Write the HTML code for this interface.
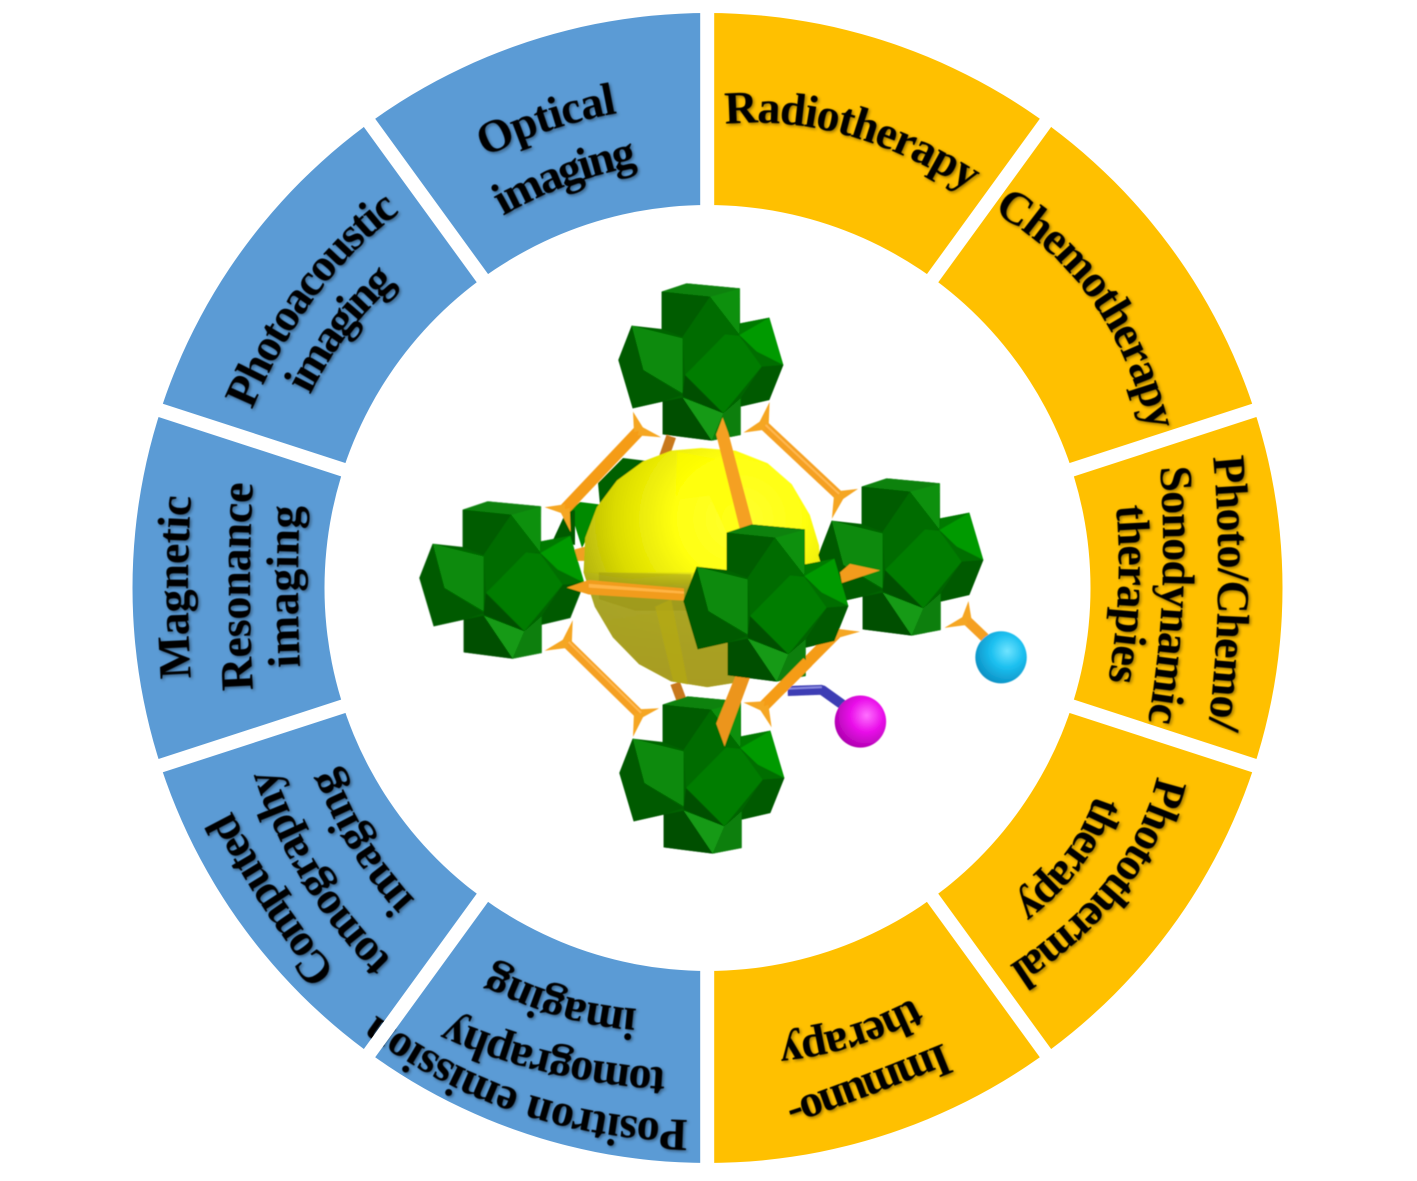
<!DOCTYPE html>
<html>
<head>
<meta charset="utf-8">
<style>
html,body{margin:0;padding:0;background:#fff}
svg{display:block}
.t{font-family:"Liberation Serif",serif;font-weight:bold;font-size:46px;fill:#000}
</style>
</head>
<body>
<svg width="1417" height="1181" viewBox="0 0 1417 1181" xmlns="http://www.w3.org/2000/svg">
<defs>
<filter id="sh" x="-5%" y="-5%" width="110%" height="110%">
<feGaussianBlur in="SourceAlpha" stdDeviation="1.5" result="b"/>
<feOffset in="b" dx="1.5" dy="1.5" result="o"/>
<feFlood flood-color="#000" flood-opacity=".42"/>
<feComposite in2="o" operator="in" result="s"/>
<feGaussianBlur in="SourceGraphic" stdDeviation=".6" result="g"/>
<feMerge><feMergeNode in="s"/><feMergeNode in="g"/></feMerge>
</filter>
<filter id="soft"><feGaussianBlur stdDeviation=".5"/></filter>
<radialGradient id="sp1" gradientUnits="userSpaceOnUse" cx="820" cy="650" r="430">
<stop offset="0" stop-color="#ffff30"/><stop offset=".38" stop-color="#ffff10"/><stop offset=".72" stop-color="#dcdc00"/><stop offset="1" stop-color="#adad10"/>
</radialGradient>
<linearGradient id="sp2" gradientUnits="userSpaceOnUse" x1="0" y1="790" x2="0" y2="1090">
<stop offset="0" stop-color="#a8a428" stop-opacity=".2"/><stop offset=".16" stop-color="#a8a428" stop-opacity=".95"/><stop offset="1" stop-color="#a89c20"/>
</linearGradient>
<radialGradient id="cy" cx=".62" cy=".38" r=".7">
<stop offset="0" stop-color="#70e4ff"/><stop offset=".45" stop-color="#1cc0f0"/><stop offset="1" stop-color="#0a8cc0"/>
</radialGradient>
<radialGradient id="mg" cx=".62" cy=".38" r=".7">
<stop offset="0" stop-color="#ff70ff"/><stop offset=".45" stop-color="#ea10ea"/><stop offset="1" stop-color="#a800a8"/>
</radialGradient>
<g id="c" transform="matrix(.33333,0,0,.33333,610,275)">
<polygon fill="#006400" points="155,50 230,25 390,40 390,145 478,128 520,270 478,375 392,395 392,480 305,497 158,478 158,380 68,400 25,255 65,152 155,162"/>
<polygon fill="#0a820a" points="155,50 230,25 390,40 300,65"/>
<polygon fill="#0a900a" points="300,65 390,40 388,178"/>
<polygon fill="#005c00" points="155,50 300,65 218,185 155,162"/>
<polygon fill="#006c00" points="300,65 388,180 345,178 225,300 218,185"/>
<polygon fill="#088a08" points="65,152 218,190 218,355 100,285"/>
<polygon fill="#005a00" points="65,152 25,255 68,400 158,380 218,360 100,285"/>
<polygon fill="#007a00" points="390,145 478,128 388,180"/>
<polygon fill="#009a00" points="388,180 478,128 520,270 440,230"/>
<polygon fill="#056e05" points="388,185 440,230 520,270 455,275"/>
<polygon fill="#005a00" points="455,275 520,270 478,375 392,395 395,365"/>
<polygon fill="#007d00" points="345,178 388,182 455,275 340,415 225,300"/>
<polygon fill="#004f00" points="225,300 340,415 218,365 218,355"/>
<polygon fill="#149a14" points="218,368 340,415 305,497"/>
<polygon fill="#005000" points="158,380 218,368 305,497 158,478"/>
<polygon fill="#0d7f0d" points="340,415 392,370 392,480 305,497"/>
</g>
</defs>

<!-- ring -->
<path fill="#FFC000" d="M707.5,13 A575,575 0 0 1 707.5,1163 L707.5,971 A383,383 0 0 0 707.5,205 Z"/>
<path fill="#5B9BD5" d="M707.5,13 A575,575 0 0 0 707.5,1163 L707.5,971 A383,383 0 0 1 707.5,205 Z"/>

<path id="p1" fill="none" d="M485,157 Q549,125.5 618,113"/>
<path id="p2" fill="none" d="M503,216 Q567.5,179 640,165.5"/>
<path id="p3" fill="none" d="M252,410 Q305.5,283 398,214"/>
<path id="p4" fill="none" d="M310,395 Q342,331 392,287"/>
<path id="p5" fill="none" d="M191,678 Q185,592.5 191,497"/>
<path id="p6" fill="none" d="M253,690 Q247,586.5 253,483"/>
<path id="p7" fill="none" d="M300,667 Q296,586.5 300,506"/>
<path id="p8" fill="none" d="M336,972 Q270,888 232,812"/>
<path id="p9" fill="none" d="M392,960 Q312,882 275,772"/>
<path id="p10" fill="none" d="M415,900 Q363,844 335,768"/>
<path id="p11" fill="none" d="M688,1120 Q513.5,1117.5 373,1013"/>
<path id="p12" fill="none" d="M666,1068 Q548.5,1061.5 449,1017"/>
<path id="p13" fill="none" d="M637,1009 Q559.5,1002.5 492,966"/>
<path id="p14" fill="none" d="M944,1043 Q851.5,1081 785,1103"/>
<path id="p15" fill="none" d="M914,998 Q850,1033 777,1040"/>
<path id="p16" fill="none" d="M1157,776 Q1133,885 1009,966"/>
<path id="p17" fill="none" d="M1095,795 Q1075.5,856.5 1014,904"/>
<path id="p18" fill="none" d="M1213,457 Q1225.5,586.5 1208,730"/>
<path id="p19" fill="none" d="M1160,467 Q1170,595.5 1148,722"/>
<path id="p20" fill="none" d="M1116,506 Q1124,592 1108,682"/>
<path id="p21" fill="none" d="M993,212 Q1109.5,277 1148,428"/>
<path id="p22" fill="none" d="M725,124 Q845,113 967,190"/>

<g filter="url(#sh)" class="t">
<text class="t"><textPath href="#p1" textLength="140">Optical</textPath></text>
<text class="t"><textPath href="#p2" textLength="144">imaging</textPath></text>
<text class="t"><textPath href="#p3" textLength="250">Photoacoustic</textPath></text>
<text class="t"><textPath href="#p4" textLength="142">imaging</textPath></text>
<text class="t"><textPath href="#p5" textLength="182">Magnetic</textPath></text>
<text class="t"><textPath href="#p6" textLength="207">Resonance</textPath></text>
<text class="t"><textPath href="#p7" textLength="161">imaging</textPath></text>
<text class="t"><textPath href="#p8" textLength="192">Computed</textPath></text>
<text class="t"><textPath href="#p9" textLength="228">tomography</textPath></text>
<text class="t"><textPath href="#p10" textLength="156">imaging</textPath></text>
<text class="t"><textPath href="#p11" textLength="335">Positron emission</textPath></text>
<text class="t"><textPath href="#p12" textLength="225">tomography</textPath></text>
<text class="t"><textPath href="#p13" textLength="152">imaging</textPath></text>
<text class="t"><textPath href="#p14" textLength="170">Immuno-</textPath></text>
<text class="t"><textPath href="#p15" textLength="143">therapy</textPath></text>
<text class="t"><textPath href="#p16" textLength="247">Photothermal</textPath></text>
<text class="t"><textPath href="#p17" textLength="138">therapy</textPath></text>
<text class="t"><textPath href="#p18" textLength="273">Photo/Chemo/</textPath></text>
<text class="t"><textPath href="#p19" textLength="256">Sonodynamic</textPath></text>
<text class="t"><textPath href="#p20" textLength="176">therapies</textPath></text>
<text class="t"><textPath href="#p21" textLength="277">Chemotherapy</textPath></text>
<text class="t"><textPath href="#p22" textLength="258">Radiotherapy</textPath></text>
</g>

<!-- separators -->
<g stroke="#fff" stroke-width="14" fill="none">
<line x1="707.2" y1="0" x2="707.2" y2="240"/>
<line x1="707.2" y1="940" x2="707.2" y2="1181"/>
<line x1="919.1" y1="296.8" x2="1060.2" y2="102.6"/>
<line x1="495.9" y1="879.2" x2="354.8" y2="1073.4"/>
<line x1="1049.9" y1="476.8" x2="1278.2" y2="402.6"/>
<line x1="365.1" y1="699.2" x2="136.8" y2="773.4"/>
<line x1="1049.9" y1="699.2" x2="1278.2" y2="773.4"/>
<line x1="365.1" y1="476.8" x2="136.8" y2="402.6"/>
<line x1="919.1" y1="879.2" x2="1060.2" y2="1073.4"/>
<line x1="495.9" y1="296.8" x2="354.8" y2="102.6"/>
</g>

<!-- molecule -->
<g filter="url(#soft)">
<!-- back cluster fragments -->
<polygon fill="#006000" points="598,483 623,458 655,462 600,505"/>
<polygon fill="#008a00" points="570,510 580,502 604,505 582,548"/>
<polygon fill="#005a00" points="553,540 566,512 575,510 575,545"/>

<g transform="matrix(.4018,0,0,.3827,410,270)">
<g stroke="#c8781a" stroke-width="25" fill="none">
<line x1="650" y1="435" x2="630" y2="495"/>
<line x1="660" y1="1080" x2="678" y2="1130"/>
</g>
<polygon fill="#f0a020" points="410,730 440,722 440,760 410,760"/>
<!-- sphere -->
<polygon fill="url(#sp1)" points="725,465 810,472 890,505 950,560 995,640 1018,720 1022,800 1005,880 965,960 905,1030 830,1075 740,1090 650,1075 570,1030 505,960 460,880 432,790 436,700 465,620 515,550 580,500 650,472"/>
<polygon fill="#ffff00" opacity=".55" points="665,475 800,500 835,680 790,690 745,590 660,600"/>
<polygon fill="url(#sp2)" points="432,790 1022,790 1005,880 965,960 905,1030 830,1075 740,1090 650,1075 570,1030 505,960 460,880"/>
<polygon fill="#8f8a10" opacity=".35" points="470,790 700,795 700,890 560,890 470,860"/>
<polygon fill="#b8ac10" opacity=".6" points="610,880 650,860 692,1083 655,1075"/>
</g>

<use href="#c"/>
<use href="#c" transform="translate(1,413)"/>
<use href="#c" transform="translate(-199,218)"/>
<use href="#c" transform="translate(200,195)"/>

<!-- rods -->
<g transform="matrix(.4018,0,0,.3827,410,270)">
<g fill="none">
<line x1="570" y1="420" x2="385" y2="625" stroke="#f59c18" stroke-width="29"/>
<line x1="880" y1="405" x2="1068" y2="590" stroke="#f5a020" stroke-width="25"/>
<line x1="390" y1="975" x2="570" y2="1160" stroke="#f5a020" stroke-width="25"/>
<line x1="880" y1="1140" x2="1060" y2="950" stroke="#f59c18" stroke-width="29"/>
<line x1="1385" y1="915" x2="1445" y2="975" stroke="#f5a020" stroke-width="25"/>
</g>
<polygon fill="#f5a020" points="778,385 762,430 822,682 856,676 792,425"/>
<polygon fill="#ec951a" points="783,1245 762,1185 812,1055 846,1065 802,1190"/>
<g fill="#f5a623">
<polygon points="555,370 582.5,416 557.5,424"/>
<polygon points="625,437 566,432 574,408"/>
<polygon points="335,620 384,638 386,612"/>
<polygon points="400,685 397.6,622 372.4,628"/>
<polygon points="895,345 892.6,408 867.4,402"/>
<polygon points="830,425 885,417 875,393"/>
<polygon points="1115,572 1073,602 1063,578"/>
<polygon points="1050,650 1080.5,594 1055.5,586"/>
<polygon points="405,915 402.6,978 377.4,972"/>
<polygon points="335,995 394.4,987 385.6,963"/>
<polygon points="620,1145 574,1172 566,1148"/>
<polygon points="555,1220 582.6,1163 557.4,1157"/>
<polygon points="830,1130 877,1153 883,1127"/>
<polygon points="900,1195 892,1136 868,1144"/>
<polygon points="1120,945 1060,963 1060,937"/>
<polygon points="1390,865 1398,916 1372,914"/>
<polygon points="1330,935 1389,927 1381,903"/>
</g>
<!-- horizontal front rod -->
<polygon fill="#f29c1c" points="390,830 445,810 682,832 682,864 445,848"/>
<polygon fill="#ffb545" points="445,820 682,840 682,846 445,830"/>
<polygon fill="#f29c1c" points="1170,785 1095,768 1070,790 1075,818"/>
<!-- lighter highlights -->
<line x1="885" y1="405" x2="1068" y2="585" stroke="#ffb850" stroke-width="5"/>
<line x1="395" y1="972" x2="575" y2="1157" stroke="#ffb850" stroke-width="5"/>
</g>

<use href="#c" transform="translate(65,241)"/>

<g transform="matrix(.4018,0,0,.3827,410,270)">
<!-- purple rod -->
<polyline points="940,1100 1025,1097 1085,1142" fill="none" stroke="#3c3cb4" stroke-width="26" stroke-linejoin="bevel"/>
<polyline points="940,1094 1025,1090" fill="none" stroke="#8a8ae0" stroke-width="5"/>
<line x1="925" y1="1093" x2="990" y2="1024" stroke="#f59c18" stroke-width="29"/>
<ellipse cx="1471" cy="1012" rx="64" ry="68" fill="url(#cy)"/>
<ellipse cx="1121" cy="1180" rx="64" ry="68" fill="url(#mg)"/>
</g>
</g>
</svg>
</body>
</html>
